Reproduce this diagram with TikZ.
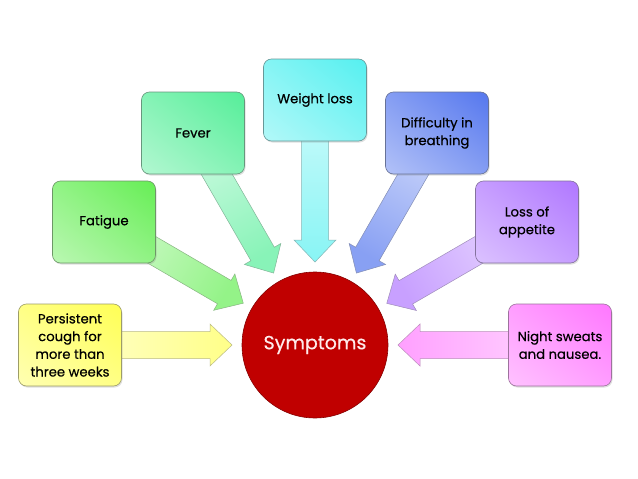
\documentclass[tikz,border=0pt]{standalone}
\usepackage{fontspec}
\setmainfont{Poppins}[FakeBold=0.5]
\usetikzlibrary{calc,shadows,shadings,backgrounds}
\definecolor{cyel}{HTML}{FFFF55}
\definecolor{cfat}{HTML}{66EE55}
\definecolor{cfev}{HTML}{55EE99}
\definecolor{cwei}{HTML}{55F0F0}
\definecolor{cdif}{HTML}{5577EE}
\definecolor{capp}{HTML}{B077FF}
\definecolor{cnig}{HTML}{FF77FF}
\definecolor{cred}{HTML}{C00000}
\newcommand\blockarrow[2]{%
  \path let \p1=(#1.center), \p2=($(sym.center)!83pt!(#1.center)$),
    \n1={atan2(\y2-\y1,\x2-\x1)}, \n2={veclen(\x2-\x1,\y2-\y1)},
    \n3={\n2-22}, \n4={\n1-90} in
    [draw=#2!55!black!60, line width=0.5pt, bottom color=#2!30!white, top color=#2!70!white, shading angle=\n4]
    ($(\p1)+(\n1+90:13.5pt)$) -- ($(\p1)+(\n1:\n3)+(\n1+90:13.5pt)$)
    -- ($(\p1)+(\n1:\n3)+(\n1+90:21pt)$) -- (\p2)
    -- ($(\p1)+(\n1:\n3)+(\n1-90:21pt)$) -- ($(\p1)+(\n1:\n3)+(\n1-90:13.5pt)$)
    -- ($(\p1)+(\n1-90:13.5pt)$) -- cycle;
}
\begin{document}
\begin{tikzpicture}[x=1pt,y=-1pt,
  box/.style={draw=#1!45!black!70, line width=0.6pt, rounded corners=8pt,
    minimum width=103pt, minimum height=82pt, align=center,
    font=\fontsize{13.2}{17.7}\selectfont, text=black,
    upper right=#1, lower left=#1!45!white, upper left=#1!72!white, lower right=#1!72!white,
    drop shadow={opacity=0.25, shadow xshift=1pt, shadow yshift=-1.5pt}}]
\useasboundingbox (0,0) rectangle (638,479);
\node[circle, minimum size=146pt, inner sep=0pt, fill=cred, draw=cred!70!black, line width=0.6pt,
  text=red!8!white, font=\fontsize{19}{23}\selectfont] (sym) at (315,345) {Symptoms};
\node[box=cyel] (cough) at (70,345) {Persistent\\cough for\\more than\\three weeks};
\node[box=cfat] (fat) at (104,222) {Fatigue};
\node[box=cfev] (fev) at (193,133) {Fever};
\node[box=cwei] (wei) at (315,100) {Weight loss};
\node[box=cdif] (dif) at (437,133) {Difficulty in\\breathing};
\node[box=capp] (app) at (527,222) {Loss of\\appetite};
\node[box=cnig] (nig) at (560,345) {Night sweats\\and nausea.};
\begin{pgfonlayer}{background}
\fill[white] (0,0) rectangle (638,479);
\blockarrow{cough}{cyel}
\blockarrow{fat}{cfat}
\blockarrow{fev}{cfev}
\blockarrow{wei}{cwei}
\blockarrow{dif}{cdif}
\blockarrow{app}{capp}
\blockarrow{nig}{cnig}
\end{pgfonlayer}
\end{tikzpicture}
\end{document}
